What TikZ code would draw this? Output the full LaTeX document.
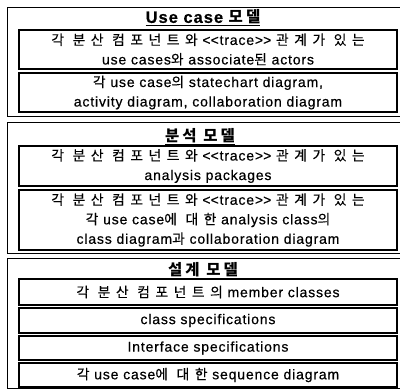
\documentclass[tikz,border=0pt]{standalone}
\usepackage{fontspec}
\setmainfont[LetterSpace=6,FakeBold=0.5]{Liberation Sans}
\newfontfamily\kr[LetterSpace=40,FakeBold=0.2]{Noto Sans CJK KR}
\newfontfamily\krt[LetterSpace=20]{Noto Sans CJK KR}
\tikzset{
  outerbox/.style={draw, line width=1pt, minimum width=393pt, inner sep=0pt},
  innerbox/.style={draw, line width=1.2pt, minimum width=378pt, align=center, inner sep=0pt,
    font=\fontsize{14}{19.5}\selectfont},
  titlebox/.style={inner sep=0pt, font=\fontsize{16.5}{18}\selectfont\bfseries}
}
\newcommand\tr{<\kern0pt<trace>\kern0pt>}
\newcommand\K[1]{{\kr\fontsize{13.8}{19.5}\selectfont #1}}
\newcommand\KT[1]{{\krt\fontsize{15.5}{18}\selectfont\bfseries #1}}
\begin{document}
\begin{tikzpicture}[x=1pt,y=-1pt]
\useasboundingbox (0,0) rectangle (400,389);
% Use case model
\node[outerbox, minimum height=109pt] (o1) at (203.5,61.5) {};
\node[titlebox] (t1) at (203,18) {\underline{Use case \KT{모델}}};
\node[innerbox, minimum height=39pt] (b1) at (208,49.5)
  {\K{각 분산 컴포넌트와} \tr{} \K{관계가 있는}\\use cases\K{와} associate\K{된} actors};
\node[innerbox, minimum height=39pt] (b2) at (208,92.5)
  {\K{각} use case\K{의} statechart diagram,\\activity diagram, collaboration diagram};
% analysis model
\node[outerbox, minimum height=131pt] (o2) at (203.5,187.5) {};
\node[titlebox] (t2) at (200,137) {\underline{\KT{분석 모델}}};
\node[innerbox, minimum height=40pt] (b3) at (208,166)
  {\K{각 분산 컴포넌트와} \tr{} \K{관계가 있는}\\analysis packages};
\node[innerbox, minimum height=60pt] (b4) at (208,220)
  {\K{각 분산 컴포넌트와} \tr{} \K{관계가 있는}\\\K{각} use case\K{에 대한} analysis class\K{의}\\class diagram\K{과} collaboration diagram};
% design model
\node[outerbox, minimum height=130pt] (o3) at (203.5,323.5) {};
\node[titlebox] (t3) at (203,271) {\underline{\KT{설계 모델}}};
\node[innerbox, minimum height=26pt] (b5) at (208,292) {\K{각 분산 컴포넌트의} member classes};
\node[innerbox, minimum height=25pt] (b6) at (208,320.5) {class specifications};
\node[innerbox, minimum height=24pt] (b7) at (208,348) {Interface specifications};
\node[innerbox, minimum height=24pt] (b8) at (208,375) {\K{각} use case\K{에 대한} sequence diagram};
\end{tikzpicture}
\end{document}
